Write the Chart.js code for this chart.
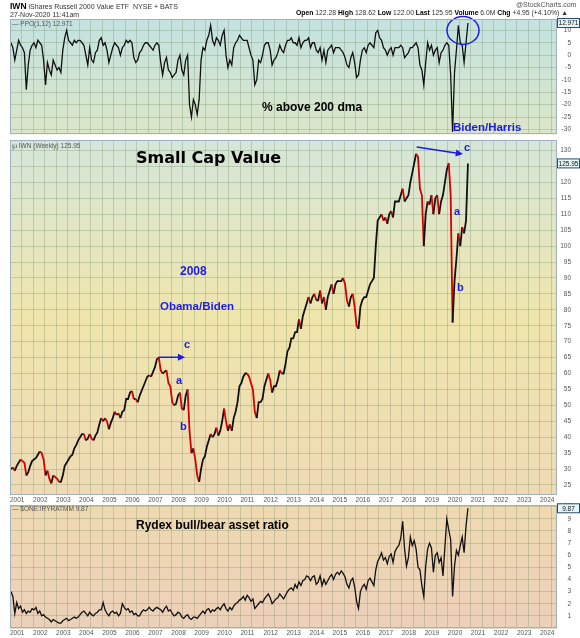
<!DOCTYPE html>
<html>
<head>
<meta charset="utf-8">
<script src="https://cdn.jsdelivr.net/npm/chart.js@4.4.1/dist/chart.umd.min.js"></script>
<style>
body{margin:0;background:#fff;width:580px;height:638px;position:relative;overflow:hidden;font-family:"Liberation Sans",Arial,sans-serif}
canvas{position:absolute;left:0}
.t{position:absolute;white-space:nowrap;line-height:1}
.hd{font-size:7px;color:#333}
.bl{color:#1c1ce6;font-weight:bold}
.bk{color:#000;font-weight:bold}
.lg{font-size:6.5px;color:#555}
</style>
</head>
<body>
<canvas id="ppo" width="580" height="140" style="top:0"></canvas>
<canvas id="px" width="580" height="375" style="top:130px"></canvas>
<canvas id="ryd" width="580" height="143" style="top:495px"></canvas>

<div class="t hd" style="left:10px;top:2px"><b style="font-size:8.5px;color:#000">IWN</b> iShares Russell 2000 Value ETF&nbsp; NYSE + BATS</div>
<div class="t hd" style="left:10px;top:11px">27-Nov-2020 11:41am</div>
<div class="t hd" style="left:516px;top:1px;color:#555">@StockCharts.com</div>
<div class="t hd" style="left:296px;top:10px;font-size:6.8px"><b style="color:#000">Open</b> 122.28 <b style="color:#000">High</b> 128.62 <b style="color:#000">Low</b> 122.00 <b style="color:#000">Last</b> 125.95 <b style="color:#000">Volume</b> 6.0M <b style="color:#000">Chg</b> +4.95 (+4.10%) &#9650;</div>
<div class="t lg" style="left:12px;top:21px">&mdash; PPO(1,12) 12.971</div>
<div class="t lg" style="left:12px;top:143px">&#8472; IWN (Weekly) 125.95</div>
<div class="t lg" style="left:12px;top:506px">&mdash; $ONE:!RYRATMM 9.87</div>

<div class="t bk" style="left:262px;top:101px;font-size:12px">% above 200 dma</div>
<div class="t bl" style="left:453px;top:122px;font-size:11.5px">Biden/Harris</div>
<div class="t bk" style="left:136px;top:150px;font-size:16px;font-family:'DejaVu Sans'">Small Cap Value</div>
<div class="t bl" style="left:180px;top:265px;font-size:12px">2008</div>
<div class="t bl" style="left:160px;top:301px;font-size:11.5px">Obama/Biden</div>
<div class="t bl" style="left:184px;top:339px;font-size:11px">c</div>
<div class="t bl" style="left:176px;top:375px;font-size:11px">a</div>
<div class="t bl" style="left:180px;top:421px;font-size:11px">b</div>
<div class="t bl" style="left:464px;top:142px;font-size:11px">c</div>
<div class="t bl" style="left:454px;top:206px;font-size:11px">a</div>
<div class="t bl" style="left:457px;top:282px;font-size:11px">b</div>
<div class="t bk" style="left:136px;top:519px;font-size:12px">Rydex bull/bear asset ratio</div>

<script>
// monthly samples, Jan 2001 .. Nov 2020
const START_YEAR = 2001;
const years = [2001,2002,2003,2004,2005,2006,2007,2008,2009,2010,2011,2012,2013,2014,2015,2016,2017,2018,2019,2020,2021,2022,2023,2024];

const ppo = [
  5,3,-2,2,6,4,3,1,-14,-4,2,4,
  5,3,6,5,4,-2,-12,-3,-6,-8,-2,-4,
  -6,-5,-7,2,7,10,6,5,4,6,5,6,
  6,5,4,0,-4,3,-2,-3,1,2,6,7,
  4,5,2,-3,0,3,5,4,3,0,3,4,
  6,5,6,5,-1,-3,-2,1,2,4,5,5,
  4,3,2,4,5,4,-3,-8,-3,-1,-6,-7,
  -9,-8,-7,-2,0,-6,-8,-2,0,-20,-25,-18,
  -20,-24,-18,-2,3,2,6,8,12,6,4,7,
  6,4,8,10,0,-5,-2,-4,3,5,6,8,
  7,6,6,6,3,0,-2,-12,-10,-2,-3,0,
  4,5,5,2,-4,-2,-1,1,4,2,1,4,
  6,6,7,5,5,4,7,3,5,6,6,7,
  3,5,5,2,1,3,-2,2,-3,2,3,4,
  1,3,3,3,2,1,-1,-4,-5,-1,1,-3,
  -9,-8,-2,2,3,1,4,5,4,3,9,10,
  7,6,3,2,0,2,3,0,3,3,3,4,
  3,-1,0,1,3,3,4,5,3,-4,-6,-12,
  -3,5,2,4,0,2,3,-3,1,2,4,5,
  4,-8,-31,-7,2,12,5,4,-3,5,12.971
];

const price = [
  30,30.5,29.5,31,32,33,32.5,32,28,29,31,32.5,
  33,33.5,34.5,35.5,35,33,28,29.5,27,25.5,28,27.5,
  27,26,26,28,31,32,33,34,34.5,36.5,37.5,39,
  40,41,41,39,39.5,41,39.5,39,40.5,41.5,44,46,
  45,46,45,42.5,44.5,46,48,47,47.5,46,48,48.5,
  52,52,54,54.5,52,52,51,53,54.5,56,57.5,59,
  59.5,59,60.5,62,64.5,65,61,60,60.5,61,57,56,
  51,50,50.5,53,54,49,48.5,53,55,42,35,36.5,
  33,28,26,30,33,34,37,39,41,40,41,43,
  40.5,42,45,49,45,42,44,42,46,48,51,56,
  57,59,60,60,59,57,55,48,46,51,51,52,
  56,58,60,58,54,56,56,58,61,60,60,63,
  67,68,71,71,73,73,77,74,78,80,82,84,
  82,84,85,83,83,86,82,84,80,84,86,88,
  85,88,89,89,89,90,88,83,81,84,85,81,
  75,74,81,83,84,84,86,88,89,90,100,108,
  109,110,108,109,107,110,111,109,114,114,114,116,
  118,114,115,116,120,123,126,129,128,118,116,100,
  110,114,113,116,110,115,116,110,114,116,120,124,
  126,116,76,89,96,104,100,106,104,108,125.95
];

const rydex = [
  3.0,2.6,1.2,2.1,1.6,1.8,1.3,1.5,1.2,1.4,1.3,1.6,
  1.5,1.7,1.2,1.4,1.0,1.1,0.9,0.8,0.7,0.5,0.7,0.6,
  0.5,0.4,0.4,0.6,0.7,0.8,0.6,0.7,0.8,0.9,0.8,0.9,
  1.1,1.3,1.4,1.2,1.0,1.3,1.1,1.0,1.2,1.3,1.5,1.5,
  2.1,1.5,1.2,1.0,1.3,1.4,1.2,1.3,1.0,1.2,2.0,1.7,
  1.5,1.6,1.3,1.4,1.1,1.2,1.0,1.0,1.3,1.5,1.4,1.5,
  1.7,1.5,1.4,1.6,1.7,1.6,1.5,1.3,1.6,1.8,1.4,1.5,
  1.2,1.0,1.1,1.3,1.2,0.9,0.8,1.0,1.1,0.8,0.7,0.9,
  0.9,0.8,1.0,1.2,1.4,1.2,1.5,1.6,1.3,1.5,1.4,1.6,
  1.7,1.5,1.8,2.0,1.6,1.4,1.7,1.5,1.8,2.0,2.1,2.3,
  2.4,2.6,2.3,2.7,2.5,2.2,2.4,1.6,1.8,2.0,2.2,2.1,
  2.4,2.6,2.8,2.5,2.0,2.2,2.4,2.5,2.8,2.6,2.4,2.7,
  3.0,3.2,3.3,3.1,3.6,3.3,3.8,3.5,3.9,4.0,4.3,4.2,
  3.9,4.2,4.3,3.6,3.8,4.3,3.5,4.0,3.6,3.9,4.2,4.4,
  4.0,4.4,4.6,4.4,4.7,4.5,4.2,3.6,3.3,3.9,4.1,3.4,
  2.2,1.6,3.0,3.4,3.6,3.2,3.9,4.1,3.8,3.5,4.8,5.5,
  5.8,6.2,5.6,5.8,5.3,5.9,6.1,5.4,6.3,6.6,6.8,7.4,
  8.8,6.5,5.1,5.8,7.5,6.8,7.2,6.5,5.0,4.8,3.5,2.6,
  5.1,6.5,7.0,6.6,4.6,6.0,6.2,5.4,5.8,4.3,6.7,9.0,
  8.1,7.3,2.6,5.1,6.4,6.0,6.8,7.5,6.2,8.4,9.87
];

const BLUE = '#1c1ce6';
const GRID = 'rgba(110,140,95,0.3)';
const X_MIN = 2001, X_MAX = 2024.74;
const FONT = {family:'Liberation Sans', size:6.5};
const gridTicks = years.flatMap(y => [y, y + 0.5]);
const pts = arr => arr.map((v, i) => ({x: START_YEAR + i / 12 + 1 / 24, y: v}));

const bgPlugin = {
  id: 'bg',
  beforeDraw(c, a, o) {
    const {ctx, chartArea: r} = c;
    const g = ctx.createLinearGradient(0, r.top, 0, r.bottom);
    o.stops.forEach(s => g.addColorStop(s[0], s[1]));
    ctx.save();
    ctx.fillStyle = g;
    ctx.fillRect(r.left, r.top, r.right - r.left, r.bottom - r.top);
    ctx.restore();
  },
  afterDraw(c, a, o) {
    const {ctx, chartArea: r} = c;
    ctx.save();
    ctx.strokeStyle = '#9fb0bf';
    ctx.lineWidth = 1;
    ctx.strokeRect(r.left + 0.5, r.top + 0.5, r.right - r.left - 1, r.bottom - r.top - 1);
    // last value box
    const v = c.data.datasets[0].data.at(-1).y;
    const y = c.scales.y.getPixelForValue(v);
    ctx.fillStyle = '#e4f6f6';
    ctx.strokeStyle = '#2a4a6a';
    ctx.fillRect(r.right + 0.5, y - 4.5, 22, 9);
    ctx.strokeRect(r.right + 0.5, y - 4.5, 22, 9);
    ctx.fillStyle = '#111';
    ctx.font = '6.5px "Liberation Sans"';
    ctx.textAlign = 'center';
    ctx.textBaseline = 'middle';
    ctx.fillText(o.label, r.right + 11.5, y + 0.5);
    ctx.restore();
  }
};

const markPlugin = {
  id: 'marks',
  afterDatasetsDraw(c, a, o) {
    const {ctx, scales: {x, y}} = c;
    ctx.save();
    ctx.strokeStyle = BLUE;
    ctx.fillStyle = BLUE;
    ctx.lineWidth = 1.5;
    (o.arrows || []).forEach(([t0, v0, t1, v1]) => {
      const x0 = x.getPixelForValue(t0), y0 = y.getPixelForValue(v0);
      const x1 = x.getPixelForValue(t1), y1 = y.getPixelForValue(v1);
      const an = Math.atan2(y1 - y0, x1 - x0);
      ctx.beginPath(); ctx.moveTo(x0, y0); ctx.lineTo(x1 - 4 * Math.cos(an), y1 - 4 * Math.sin(an)); ctx.stroke();
      ctx.beginPath();
      ctx.moveTo(x1, y1);
      ctx.lineTo(x1 - 8 * Math.cos(an - 0.45), y1 - 8 * Math.sin(an - 0.45));
      ctx.lineTo(x1 - 8 * Math.cos(an + 0.45), y1 - 8 * Math.sin(an + 0.45));
      ctx.closePath(); ctx.fill();
    });
    (o.ellipses || []).forEach(([t, v, rx, ry]) => {
      ctx.beginPath();
      ctx.ellipse(x.getPixelForValue(t), y.getPixelForValue(v), rx, ry, 0, 0, Math.PI * 2);
      ctx.stroke();
    });
    ctx.restore();
  }
};

function xScale(labels) {
  return {
    type: 'linear', min: X_MIN, max: X_MAX,
    afterBuildTicks: s => { s.ticks = gridTicks.map(v => ({value: v})); },
    ticks: {display: labels, autoSkip: false, maxRotation: 0, align: 'start', padding: 1, color: '#555', font: FONT,
      callback: v => Number.isInteger(v) ? String(v) : ''},
    grid: {color: GRID, drawTicks: false},
    border: {display: false},
    afterFit: s => { s.height = labels ? 10 : 0; }
  };
}

function yScale(min, max, step, hideZero) {
  return {
    position: 'right', min: min, max: max,
    ticks: {stepSize: step, includeBounds: false, crossAlign: 'far', padding: 2, color: '#555', font: FONT,
      callback: v => (hideZero && v === 0) ? '' : v},
    grid: {color: GRID, drawTicks: false},
    border: {display: false},
    afterFit: s => { s.width = 14; }
  };
}

function makeChart(id, data, opts) {
  return new Chart(document.getElementById(id), {
    type: 'line',
    data: {datasets: [{data: pts(data), borderColor: opts.color || '#111', borderWidth: opts.width || 1.3,
      pointRadius: 0, tension: 0, segment: opts.segment}]},
    options: {
      responsive: false, animation: false, devicePixelRatio: 1,
      layout: {padding: {left: 10, right: 9, top: opts.padTop, bottom: opts.padBottom}},
      scales: {x: xScale(opts.labels), y: yScale(opts.min, opts.max, opts.step, opts.hideZero)},
      plugins: {legend: {display: false}, tooltip: {enabled: false},
        bg: {stops: opts.stops, label: opts.label},
        marks: {arrows: opts.arrows, ellipses: opts.ellipses}}
    },
    plugins: [bgPlugin, markPlugin]
  });
}

makeChart('ppo', ppo, {
  padTop: 19, padBottom: 2, labels: false, min: -31.9, max: 14.6, step: 5, label: '12.971',
  stops: [[0, '#c3e2e0'], [1, '#dbe6c8']],
  ellipses: [[2020.66, 10, 16, 14]]
});

makeChart('px', price, {
  padTop: 10, padBottom: 0, labels: true, min: 21.86, max: 133.3, step: 5, label: '125.95', width: 1.8,
  stops: [[0, '#d5e6da'], [0.5, '#efe5ac'], [1, '#eedab5']],
  segment: {borderColor: c => c.p1.parsed.y < c.p0.parsed.y ? '#d40000' : '#111'},
  arrows: [[2007.44, 65.1, 2008.6, 65.1], [2018.65, 131.1, 2020.66, 128.9]]
});

makeChart('ryd', rydex, {
  padTop: 10, padBottom: 0, labels: true, min: 0, max: 10.14, step: 1, label: '9.87', hideZero: true,
  stops: [[0, '#efd9b0'], [1, '#ecd0ba']]
});
</script>
</body>
</html>
